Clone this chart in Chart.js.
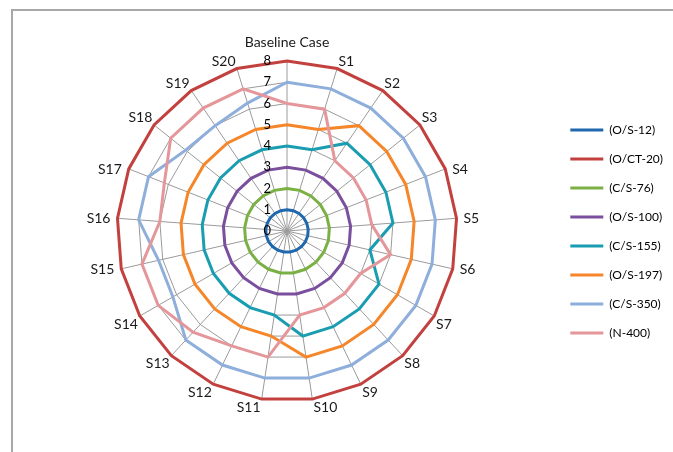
<!DOCTYPE html>
<html>
<head>
<meta charset="utf-8">
<script src="https://cdn.jsdelivr.net/npm/chart.js@4"></script>
<style>
  html, body { margin: 0; padding: 0; background: #fff; }
  #wrap { position: relative; width: 673px; height: 452px; overflow: hidden; }
  #frame { position: absolute; left: 11px; top: 9px; width: 700px; height: 500px;
           border-left: 2px solid #a8a8a8; border-top: 2px solid #a8a8a8; }
  canvas { position: absolute; left: 0; top: 0; }
</style>
</head>
<body>
<div id="wrap">
  <div id="frame"></div>
  <canvas id="c" width="673" height="452"></canvas>
</div>
<script>
// Radar categories: the baseline plus scenarios S1..S20
const categories = ['Baseline Case', 'S1', 'S2', 'S3', 'S4', 'S5', 'S6', 'S7', 'S8', 'S9', 'S10',
                    'S11', 'S12', 'S13', 'S14', 'S15', 'S16', 'S17', 'S18', 'S19', 'S20'];

const seriesNames = ['(O/S-12)', '(O/CT-20)', '(C/S-76)', '(O/S-100)', '(C/S-155)', '(O/S-197)', '(C/S-350)', '(N-400)'];

// Rank of each item per case
const os12  = [1, 1, 1, 1, 1, 1, 1, 1, 1, 1, 1, 1, 1, 1, 1, 1, 1, 1, 1, 1, 1];
const oct20 = [8, 8, 8, 8, 8, 8, 8, 8, 8, 8, 8, 8, 8, 8, 8, 8, 8, 8, 8, 8, 8];
const cs76  = [2, 2, 2, 2, 2, 2, 2, 2, 2, 2, 2, 2, 2, 2, 2, 2, 2, 2, 2, 2, 2];
const os100 = [3, 3, 3, 3, 3, 3, 3, 3, 3, 3, 3, 3, 3, 3, 3, 3, 3, 3, 3, 3, 3];
const cs155 = [4, 4, 5, 5, 5, 5, 4, 5, 5, 5, 5, 4, 4, 4, 4, 4, 4, 4, 4, 4, 4];
const os197 = [5, 5, 6, 6, 6, 6, 6, 6, 6, 6, 6, 5, 5, 5, 5, 5, 5, 5, 5, 5, 5];
const cs350 = [7, 7, 7, 7, 7, 7, 7, 7, 7, 7, 7, 7, 7, 7, 6.2, 6.2, 7, 7, 6.1, 6.0, 6.3];
const n400  = [6, 6, 4, 4, 4, 4, 5, 4, 4, 4, 4, 6, 6, 6.5, 7, 7, 6, 6.2, 7, 7, 7];

const tickValues = [0, 1, 2, 3, 4, 5, 6, 7, 8];

const seriesValues = [os12, oct20, cs76, os100, cs155, os197, cs350, n400];
const seriesColors = ['#2068ae', '#c2413f', '#7bb044', '#7a4f9d', '#1a9db0', '#f5862a', '#8eaedb', '#e4969a'];

const FONT = 'Lato, "Liberation Sans", sans-serif';

// Axis numbers just left of the vertical spoke, and category names around the rim
const radialText = {
  id: 'radialText',
  afterDraw(chart) {
    const r = chart.scales.r;
    const ctx = chart.ctx;
    const R = r.drawingArea;
    ctx.save();
    ctx.fillStyle = '#000';

    ctx.font = '13px ' + FONT;
    ctx.textAlign = 'right';
    ctx.textBaseline = 'middle';
    tickValues.forEach(v => {
      const d = r.getDistanceFromCenterForValue(v);
      ctx.fillText(String(v), r.xCenter - 16, r.yCenter - d);
    });

    ctx.font = '14px ' + FONT;
    ctx.fillStyle = '#1a1a1a';
    ctx.textBaseline = 'alphabetic';
    categories.forEach((name, i) => {
      const theta = r.getIndexAngle(i);
      const p = r.getPointPosition(i, R + 1);
      if (i === 0) {
        ctx.textAlign = 'center';
        ctx.fillText(name, p.x, p.y - 13);
        return;
      }
      const sx = Math.sin(theta) >= 0 ? 1 : -1;
      const c = Math.cos(theta);
      ctx.textAlign = sx > 0 ? 'left' : 'right';
      if (Math.abs(c) <= 0.45) {
        ctx.fillText(name, p.x + sx * 6, p.y + 5);
      } else if (c > 0) {
        ctx.fillText(name, p.x + sx * 1, p.y - 2);
      } else {
        ctx.fillText(name, p.x + sx * 1, p.y + 12);
      }
    });
    ctx.restore();
  }
};

new Chart(document.getElementById('c'), {
  type: 'radar',
  data: {
    labels: categories,
    datasets: seriesNames.map((name, i) => ({
      label: name,
      data: seriesValues[i],
      borderColor: seriesColors[i],
      backgroundColor: seriesColors[i],
      borderWidth: 3,
      pointRadius: 0,
      fill: false,
      tension: 0,
      order: seriesNames.length - i
    }))
  },
  options: {
    responsive: false,
    animation: false,
    layout: { padding: { left: 21, right: 0, top: 61, bottom: 50 } },
    plugins: {
      tooltip: { enabled: false },
      legend: {
        position: 'right',
        labels: {
          boxWidth: 33,
          boxHeight: 3,
          padding: 17,
          color: '#000',
          font: { family: FONT, size: 12 },
          generateLabels(chart) {
            return chart.data.datasets.map((ds, i) => ({
              text: ds.label,
              fillStyle: ds.borderColor,
              strokeStyle: ds.borderColor,
              lineWidth: 0,
              hidden: false,
              datasetIndex: i,
              fontColor: '#000'
            }));
          }
        }
      }
    },
    scales: {
      r: {
        min: 0,
        max: 8,
        ticks: { stepSize: 1, display: false },
        grid: { color: '#9a9a9a', lineWidth: 1 },
        angleLines: { color: '#9a9a9a', lineWidth: 1 },
        pointLabels: { display: false }
      }
    }
  },
  plugins: [radialText]
});
</script>
</body>
</html>
